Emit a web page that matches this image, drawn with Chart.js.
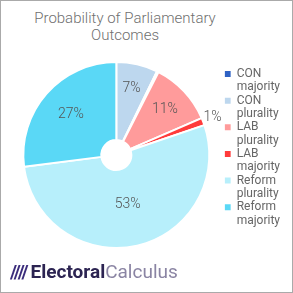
<!DOCTYPE html>
<html>
<head>
<meta charset="utf-8">
<script src="https://cdn.jsdelivr.net/npm/chart.js@4/dist/chart.umd.min.js"></script>
<style>
  html, body { margin: 0; padding: 0; background: #fff; }
  .card {
    position: relative;
    width: 293px;
    height: 293px;
    box-sizing: border-box;
    border: 1px solid #aaa;
    font-family: Roboto, "Noto Sans", sans-serif;
    overflow: hidden;
  }
  .title {
    position: absolute;
    left: 0;
    top: 9px;
    width: 248px;
    text-align: center;
    font-size: 15px;
    font-weight: 300;
    line-height: 17px;
    color: #6f6f6f;
  }
  .chart-box { position: absolute; left: 0; top: 0; width: 291px; height: 291px; }
  .logo {
    position: absolute;
    left: 9px;
    top: 260px;
    font-size: 19px;
    line-height: 22px;
    white-space: nowrap;
  }
  .logo .slashes { color: #3b2c7c; font-weight: 700; letter-spacing: -1px; margin-right: 3px; }
  .logo .e { color: #2c2452; font-weight: 700; }
  .logo .c { color: #8a84a3; font-weight: 400; }
</style>
</head>
<body>
<div class="card">
  <div class="title">Probability of Parliamentary<br>Outcomes</div>
  <div class="chart-box"><canvas id="chart"></canvas></div>
  <div class="logo"><span class="slashes">////</span><span class="e">Electoral</span><span class="c">Calculus</span></div>
</div>
<script>
// outcomes, in drawing order (clockwise from the top)
const outcomes = ["CON majority", "CON plurality", "Other", "LAB plurality", "LAB majority", "Reform plurality", "Reform majority"];
const probabilities = [0, 7.2, 0.3, 11.0, 1.3, 53.2, 27.0];
const colours = ["#2f62c4", "#bdd7ee", "#f7c447", "#ff9b9b", "#ff3b3b", "#b7effb", "#5ad8f6"];
const hiddenInLegend = ["Other"];

// percent labels drawn on (or just outside) each slice
const sliceLabels = {
  id: "sliceLabels",
  afterDatasetsDraw(chart) {
    const ctx = chart.ctx;
    const meta = chart.getDatasetMeta(0);
    const values = chart.data.datasets[0].data;
    const total = values.reduce((a, b) => a + b, 0);
    ctx.save();
    ctx.font = "300 14px Roboto, sans-serif";
    ctx.fillStyle = "#555";
    ctx.textAlign = "center";
    ctx.textBaseline = "middle";
    meta.data.forEach((arc, i) => {
      const v = values[i];
      if (Math.round(v) < 1) return;
      const p = arc.getProps(["x", "y", "startAngle", "endAngle", "outerRadius"], true);
      const frac = v / total;
      const mid = (p.startAngle + p.endAngle) / 2;
      const r = frac < 0.03 ? p.outerRadius + 10 : p.outerRadius * (0.76 - 0.4 * frac);
      ctx.fillText(Math.round(v) + "%", p.x + Math.cos(mid) * r, p.y + Math.sin(mid) * r);
    });
    ctx.restore();
  }
};

const defaultLabels = Chart.overrides.doughnut.plugins.legend.labels.generateLabels;

new Chart(document.getElementById("chart"), {
  type: "doughnut",
  data: {
    labels: outcomes.map(s => s.split(" ")),
    datasets: [{
      data: probabilities,
      backgroundColor: colours,
      borderColor: "#fff",
      borderWidth: 2,
      hoverOffset: 0
    }]
  },
  options: {
    responsive: true,
    maintainAspectRatio: false,
    animation: false,
    cutout: 15,
    layout: { padding: { top: 60, bottom: 43, left: 7, right: 2 } },
    plugins: {
      legend: {
        position: "right",
        align: "start",
        title: { display: true, text: "", font: { size: 5, lineHeight: 1.4 }, padding: 0 },
        labels: {
          boxWidth: 6,
          boxHeight: 6,
          padding: 0,
          color: "#666",
          font: { family: "Roboto", size: 12, lineHeight: 1.11 },
          generateLabels(chart) {
            return defaultLabels(chart)
              .filter(item => !hiddenInLegend.includes(outcomes[item.index]))
              .map(item => Object.assign(item, { lineWidth: 0 }));
          }
        }
      },
      tooltip: { enabled: false }
    }
  },
  plugins: [sliceLabels]
});
</script>
</body>
</html>
